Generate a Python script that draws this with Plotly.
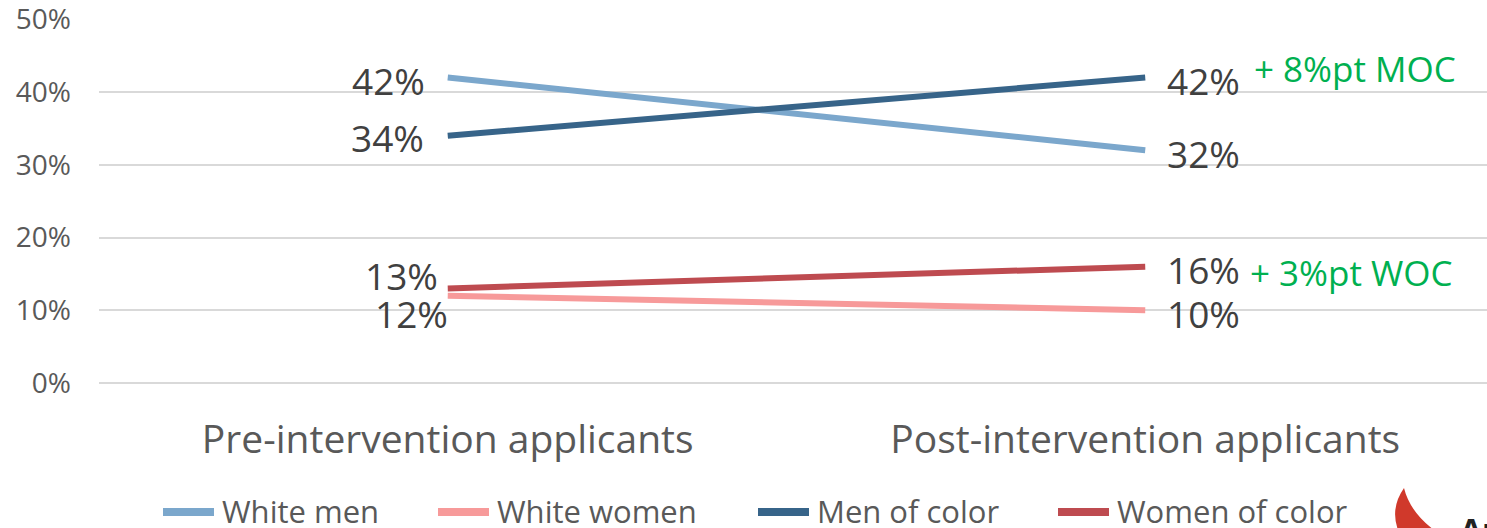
import plotly.graph_objects as go

categories = ["Pre-intervention applicants", "Post-intervention applicants"]
series_names = ["White men", "White women", "Men of color", "Women of color"]
white_men = [0.42, 0.32]
white_women = [0.12, 0.10]
men_of_color = [0.34, 0.42]
women_of_color = [0.13, 0.16]
y_ticks = [0, 0.1, 0.2, 0.3, 0.4, 0.5]
y_tick_labels = ["0%", "10%", "20%", "30%", "40%", "50%"]
notes = ["+ 8%pt MOC", "+ 3%pt WOC"]

colors = ["#7BA7CC", "#F79A9A", "#376489", "#BE4B50"]
values = [white_men, white_women, men_of_color, women_of_color]
FONT = "Open Sans"

W, H = 1487, 528
ML, MR, MT, MB = 99, 0, 19, 145
PW, PH = W - ML - MR, H - MT - MB


def px_x(px):
    return (px - ML) / PW


def px_y(py):
    return (H - MB - py) / PH


fig = go.Figure()
for name, vals, col in zip(series_names, values, colors):
    fig.add_trace(go.Scatter(
        x=categories, y=vals, name=name, mode="lines",
        line=dict(color=col, width=6), showlegend=False,
    ))

label_col = "#404040"
left_xshift = [-21, 2, -22, -8]
left_yshift = [-3, -18, -2, 13]
for i, vals in enumerate(values):
    fig.add_annotation(x=categories[0], y=vals[0], text=f"{round(vals[0]*100)}%",
                       showarrow=False, xanchor="right", yanchor="middle",
                       xshift=left_xshift[i], yshift=left_yshift[i],
                       font=dict(family=FONT, size=37, color=label_col))
    fig.add_annotation(x=categories[1], y=vals[1], text=f"{round(vals[1]*100)}%",
                       showarrow=False, xanchor="left", yanchor="middle",
                       xshift=20, yshift=-3,
                       font=dict(family=FONT, size=37, color=label_col))

fig.add_annotation(x=categories[1], y=men_of_color[1], text=notes[0], showarrow=False,
                   xanchor="left", yanchor="middle", xshift=107, yshift=9,
                   font=dict(family=FONT, size=35, color="#00B050"))
fig.add_annotation(x=categories[1], y=women_of_color[1], text=notes[1], showarrow=False,
                   xanchor="left", yanchor="middle", xshift=103, yshift=-6,
                   font=dict(family=FONT, size=35, color="#00B050"))

# legend drawn at the bottom (cut off by the frame as in the reference)
legend_px = [160, 435, 755, 1055]
for name, col, lx in zip(series_names, colors, legend_px):
    fig.add_shape(type="line", xref="paper", yref="paper",
                  x0=px_x(lx + 3), x1=px_x(lx + 54), y0=px_y(512), y1=px_y(512),
                  line=dict(color=col, width=8))
    fig.add_annotation(xref="paper", yref="paper", x=px_x(lx + 60), y=px_y(511),
                       text=name, showarrow=False, xanchor="left", yanchor="middle",
                       font=dict(family=FONT, size=31, color="#595959"))

# partial logo in the bottom-right corner
logo_path = (f"M {px_x(1404)} {px_y(488)} Q {px_x(1390)} {px_y(508)} {px_x(1398)} {px_y(530)} "
             f"L {px_x(1434)} {px_y(530)} Q {px_x(1410)} {px_y(512)} {px_x(1404)} {px_y(488)} Z")
fig.add_shape(type="path", xref="paper", yref="paper", path=logo_path,
              fillcolor="#D0392B", line=dict(width=0))
fig.add_annotation(xref="paper", yref="paper", x=px_x(1458), y=px_y(506), text="<b>An</b>",
                   showarrow=False, xanchor="left", yanchor="top",
                   font=dict(family=FONT, size=32, color="#222222"))

fig.update_layout(
    width=W, height=H,
    margin=dict(l=ML, r=MR, t=MT, b=MB, autoexpand=False),
    plot_bgcolor="white", paper_bgcolor="white",
    showlegend=False,
    xaxis=dict(range=[-0.5, 1.49], showgrid=False, zeroline=False, showline=False,
               ticks="", tickfont=dict(family=FONT, size=39, color="#595959"),
               ticklabelstandoff=30, automargin=False),
    yaxis=dict(range=[0, 0.5005], tickvals=y_ticks, ticktext=y_tick_labels,
               showgrid=True, gridcolor="#D9D9D9", gridwidth=2,
               zeroline=True, zerolinecolor="#D9D9D9", zerolinewidth=2,
               tickfont=dict(family=FONT, size=28, color="#595959"),
               ticklabelstandoff=27, automargin=False, ticklabeloverflow="allow"),
)

fig.write_html("out.html", config={"displayModeBar": False},
               post_script="document.body.style.margin='0';document.body.style.overflow='hidden';")
